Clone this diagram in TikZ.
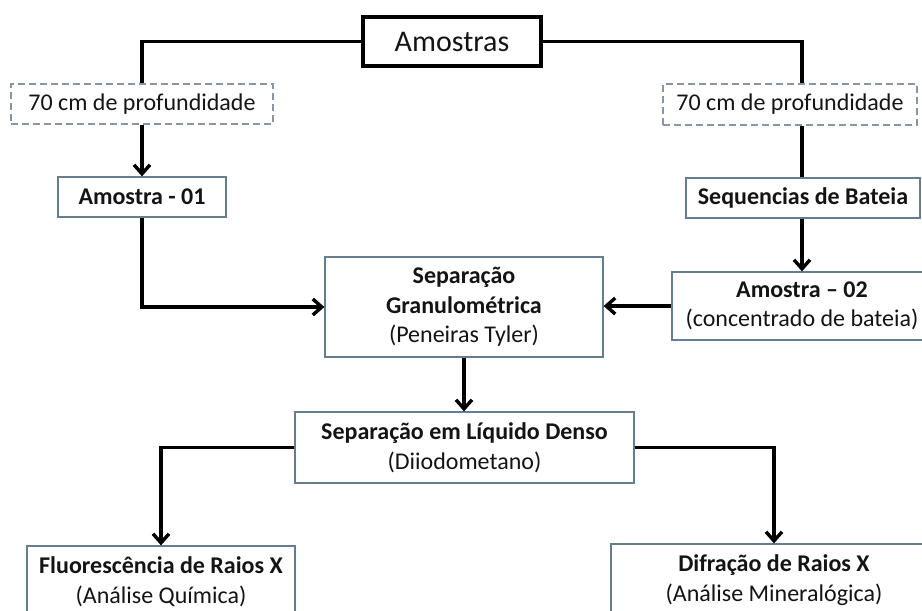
\documentclass[tikz,border=0pt]{standalone}
\usepackage{fontspec}
\setmainfont{Carlito}
\usetikzlibrary{arrows.meta}
\definecolor{boxc}{RGB}{100,125,145}
\definecolor{dashc}{RGB}{135,150,165}
\definecolor{txt}{RGB}{20,20,20}
\begin{document}
\begin{tikzpicture}[x=1pt,y=-1pt,
  box/.style={draw=boxc, line width=1.3pt, fill=white, inner sep=0pt, align=center, text=txt,
    font=\fontsize{24}{29.5}\selectfont},
  dbox/.style={draw=dashc, dash pattern=on 7pt off 4pt, line width=1.3pt, inner sep=0pt,
    text=txt, font=\fontsize{24}{29.5}\selectfont},
  topbox/.style={draw=black, line width=3.3pt, fill=white, inner sep=0pt, text=txt,
    font=\fontsize{30}{36}\selectfont},
  conn/.style={line width=3.4pt, black},
  arr/.style={conn, -{Straight Barb[length=9pt,width=16pt]}}
]
\useasboundingbox (0,0) rectangle (922,611);

\node[topbox, minimum width=178pt, minimum height=49pt] (amostras) at (452,41.5) {Amostras};
\node[dbox, minimum width=262pt, minimum height=40pt] (d1) at (142,104) {70 cm de profundidade};
\node[dbox, minimum width=254pt, minimum height=41pt] (d2) at (790,104.5) {70 cm de profundidade};
\node[box, minimum width=168pt, minimum height=40pt] (a01) at (142,197) {\textbf{Amostra - 01}};
\node[box, minimum width=234pt, minimum height=40pt] (seq) at (803,198) {\textbf{Sequencias de Bateia}};
\node[box, minimum width=260pt, minimum height=68pt] (a02) at (802,306) {\textbf{Amostra – 02}\\(concentrado de bateia)};
\node[box, minimum width=278pt, minimum height=100pt] (sg) at (464,307) {\textbf{Separação}\\\textbf{Granulométrica}\\(Peneiras Tyler)};
\node[box, minimum width=339pt, minimum height=71pt] (sl) at (464.5,447.5) {\textbf{Separação em Líquido Denso}\\(Diiodometano)};
\node[box, minimum width=268pt, minimum height=71pt] (fl) at (161,581.5) {\textbf{Fluorescência de Raios X}\\(Análise Química)};
\node[box, minimum width=326pt, minimum height=72pt] (df) at (774,580) {\textbf{Difração de Raios X}\\(Análise Mineralógica)};

\coordinate (r1) at (a02 |- d2.south);
\coordinate (r2) at (a02 |- d2.north);

\draw[conn] (amostras.west) -| (d1.north);
\draw[conn] (amostras.east) -| (r2);
\draw[arr] (d1.south) -- (a01.north);
\draw[conn] (r1) -- (seq.north -| a02);
\draw[arr] (seq.south -| a02) -- (a02.north);
\draw[arr] (a01.south) |- (sg.west);
\draw[arr] (a02.west) -- (sg.east |- a02.west);
\draw[arr] (sg.south) -- (sl.north -| sg.south);
\draw[arr] (sl.west) -| (fl.north);
\draw[arr] (sl.east) -| (df.north);
\end{tikzpicture}
\end{document}
